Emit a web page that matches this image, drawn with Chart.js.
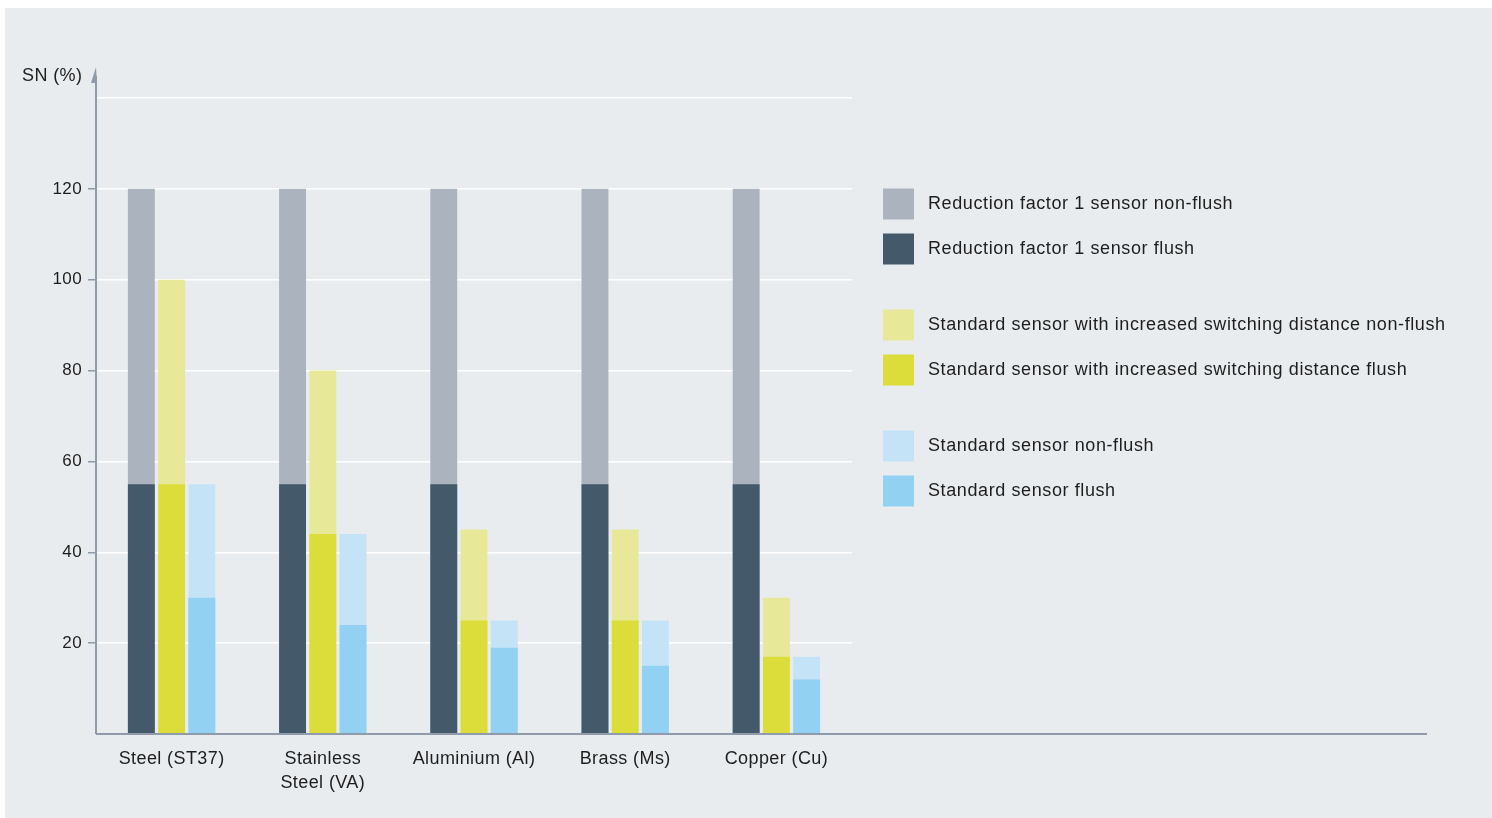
<!DOCTYPE html>
<html>
<head>
<meta charset="utf-8">
<script src="https://cdn.jsdelivr.net/npm/chart.js@4.4.1/dist/chart.umd.min.js"></script>
<style>
  html, body { margin: 0; padding: 0; background: #ffffff; }
  #wrap { position: relative; width: 1492px; height: 818px; }
</style>
</head>
<body>
<div id="wrap"><canvas id="snChart" width="1492" height="818"></canvas></div>
<script>
// Materials on the x axis
const materials = ['Steel (ST37)', ['Stainless', 'Steel (VA)'], 'Aluminium (Al)', 'Brass (Ms)', 'Copper (Cu)'];

// Switching distance SN (%) per material
const reductionNonFlush = [120, 120, 120, 120, 120];
const reductionFlush = [55, 55, 55, 55, 55];
const increasedNonFlush = [100, 80, 45, 45, 30];
const increasedFlush = [55, 44, 25, 25, 17];
const standardNonFlush = [55, 44, 25, 25, 17];
const standardFlush = [30, 24, 19, 15, 12];

// Y axis ticks (only these get a label)
const yTickLabels = [20, 40, 60, 80, 100, 120];

const FONT = '"Liberation Sans", Arial, sans-serif';
const TEXT = '#1e1e1e';
const AXIS = '#8f9aab';

// Legend entries, in pairs
const legendItems = [
    { label: 'Reduction factor 1 sensor non-flush', color: '#abb3bf' },
    { label: 'Reduction factor 1 sensor flush', color: '#445a6b' },
    { label: 'Standard sensor with increased switching distance non-flush', color: '#e8e899' },
    { label: 'Standard sensor with increased switching distance flush', color: '#dcdd3a' },
    { label: 'Standard sensor non-flush', color: '#c4e3f7' },
    { label: 'Standard sensor flush', color: '#93d1f3' }
];

// Background panel, axis lines, y title and the legend
const decorPlugin = {
    id: 'decor',
    beforeDraw(chart) {
        const ctx = chart.ctx;
        ctx.save();
        ctx.fillStyle = '#ffffff';
        ctx.fillRect(0, 0, chart.width, chart.height);
        ctx.fillStyle = '#e8ecef';
        ctx.fillRect(5, 8, chart.width - 5, chart.height - 8);
        ctx.restore();
        // a bit wider text, closer to the original typeface
        ctx.letterSpacing = '0.4px';
    },
    afterDraw(chart) {
        const ctx = chart.ctx;
        const area = chart.chartArea;
        const zeroY = chart.scales.y.getPixelForValue(0);
        ctx.save();

        // y axis with arrow
        ctx.strokeStyle = AXIS;
        ctx.lineWidth = 2;
        ctx.beginPath();
        ctx.moveTo(area.left, zeroY);
        ctx.lineTo(area.left, 76);
        ctx.stroke();
        ctx.fillStyle = AXIS;
        ctx.beginPath();
        ctx.moveTo(area.left - 5, 83);
        ctx.lineTo(area.left, 67);
        ctx.lineTo(area.left + 1, 83);
        ctx.closePath();
        ctx.fill();

        // x axis, running past the plot
        ctx.beginPath();
        ctx.moveTo(area.left, zeroY);
        ctx.lineTo(1427, zeroY);
        ctx.stroke();

        // y title
        ctx.fillStyle = TEXT;
        ctx.font = '18px ' + FONT;
        ctx.textAlign = 'left';
        ctx.textBaseline = 'middle';
        ctx.fillText('SN (%)', 22, 76);

        // legend
        const rows = [204, 249, 325, 370, 446, 491];
        ctx.letterSpacing = '0.6px';
        legendItems.forEach((item, i) => {
            ctx.fillStyle = item.color;
            ctx.fillRect(883, rows[i] - 15.5, 31, 31);
            ctx.fillStyle = TEXT;
            ctx.fillText(item.label, 928, rows[i]);
        });
        ctx.restore();
    }
};

function barSet(label, data, color, stack) {
    return {
        label: label,
        data: data,
        backgroundColor: color,
        borderWidth: 0,
        stack: stack,
        categoryPercentage: 0.6,
        barPercentage: 0.89
    };
}

const ctx = document.getElementById('snChart');
new Chart(ctx, {
    type: 'bar',
    data: {
        labels: materials,
        // flush datasets first so they are drawn on top of the non-flush ones
        datasets: [
            barSet(legendItems[1].label, reductionFlush, legendItems[1].color, 'reduction'),
            barSet(legendItems[3].label, increasedFlush, legendItems[3].color, 'increased'),
            barSet(legendItems[5].label, standardFlush, legendItems[5].color, 'standard'),
            barSet(legendItems[0].label, reductionNonFlush, legendItems[0].color, 'reduction'),
            barSet(legendItems[2].label, increasedNonFlush, legendItems[2].color, 'increased'),
            barSet(legendItems[4].label, standardNonFlush, legendItems[4].color, 'standard')
        ]
    },
    options: {
        responsive: false,
        animation: false,
        layout: {
            padding: { left: 0, right: 640, top: 98, bottom: 0 }
        },
        plugins: {
            legend: { display: false },
            tooltip: { enabled: false }
        },
        scales: {
            x: {
                stacked: true,
                grid: { display: false },
                border: { display: false },
                ticks: {
                    color: TEXT,
                    font: { family: FONT, size: 18, lineHeight: 1.32 },
                    padding: 5,
                    maxRotation: 0,
                    autoSkip: false
                },
                afterFit(scale) { scale.height = 84; }
            },
            y: {
                stacked: false,
                min: 0,
                max: 140,
                border: { display: false },
                grid: {
                    color: (c) => c.tick && c.tick.value === 0 ? 'rgba(0,0,0,0)' : '#ffffff',
                    lineWidth: 1.5,
                    tickLength: 8,
                    tickColor: (c) => c.tick && yTickLabels.includes(c.tick.value) ? AXIS : 'rgba(0,0,0,0)'
                },
                ticks: {
                    stepSize: 20,
                    color: TEXT,
                    padding: 6,
                    font: { family: FONT, size: 17 },
                    callback: (value) => yTickLabels.includes(value) ? String(value) : ''
                },
                afterFit(scale) { scale.width = 96; }
            }
        }
    },
    plugins: [decorPlugin]
});
</script>
</body>
</html>
